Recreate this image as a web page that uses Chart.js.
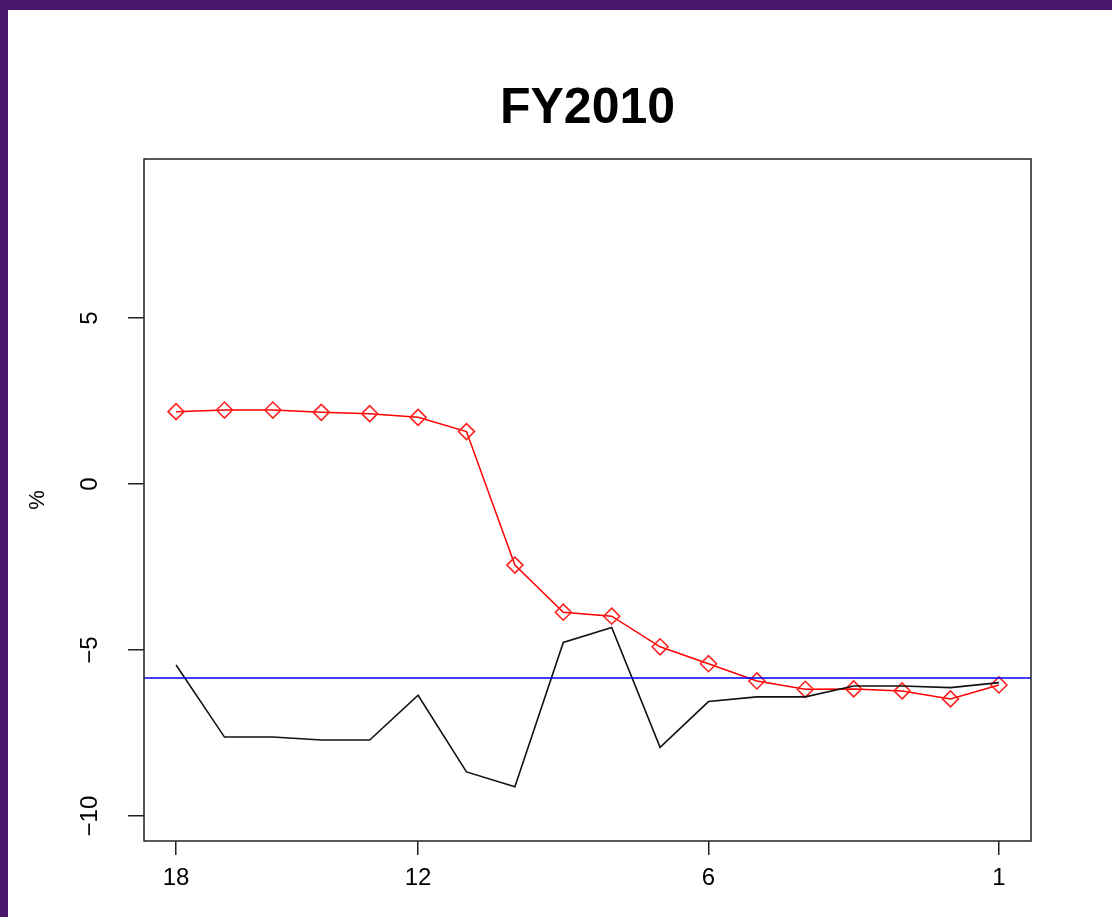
<!DOCTYPE html>
<html>
<head>
<meta charset="utf-8">
<title>FY2010</title>
<script src="https://cdn.jsdelivr.net/npm/chart.js@4.4.1/dist/chart.umd.min.js"></script>
<style>
	html, body { margin: 0; padding: 0; }
	body { width: 1112px; height: 917px; background: #48176a; position: relative; overflow: hidden; }
	#wrap { position: absolute; left: 8px; top: 10px; width: 1104px; height: 907px; background: #fff; }
</style>
</head>
<body>
<div id="wrap"><canvas id="line-chart" width="1104" height="907"></canvas></div>
<script>
// months before, 18 points left to right
var xLabels = ["18", "", "", "", "", "12", "", "", "", "", "", "6", "", "", "", "", "", "1"];
var xTicks = [0, 5, 11, 17];
var yTicks = [-10, -5, 0, 5];
var titleText = "FY2010";

// red series (with diamonds)
var forecast = [2.18, 2.23, 2.23, 2.16, 2.12, 2.01, 1.58, -2.44, -3.86, -3.98,
	-4.90, -5.41, -5.93, -6.18, -6.17, -6.23, -6.47, -6.05];
// black series
var actual = [-5.45, -7.62, -7.62, -7.71, -7.71, -6.36, -8.67, -9.12, -4.77, -4.32,
	-7.93, -6.55, -6.41, -6.41, -6.08, -6.08, -6.13, -5.98];
// blue reference level
var level = -5.84;

var xMin = -0.663, xMax = 17.663;
var yMin = -10.75, yMax = 9.79;

function toPoints(arr) {
	var pts = [];
	for (var i = 0; i < arr.length; i++) {
		pts.push({ x: i, y: arr[i] });
	}
	return pts;
}

Chart.defaults.font.family = "'Liberation Sans', Arial, Helvetica, sans-serif";
Chart.defaults.color = "#000";

//frame box, title over the plot and rotated y labels like R
var framePlugin = {
	id : "frame",
	afterDraw : function(chart) {
		var ctx = chart.ctx;
		var a = chart.chartArea;
		ctx.save();
		ctx.strokeStyle = "#222";
		ctx.lineWidth = 1.5;
		ctx.strokeRect(a.left, a.top, a.right - a.left, a.bottom - a.top);

		ctx.fillStyle = "#000";
		ctx.font = "bold 50px 'Liberation Sans', Arial, sans-serif";
		ctx.textAlign = "center";
		ctx.textBaseline = "alphabetic";
		ctx.fillText(titleText, (a.left + a.right) / 2, 113);

		var ys = chart.scales.y;
		ctx.font = "24px 'Liberation Sans', Arial, sans-serif";
		ctx.textBaseline = "middle";
		for (var i = 0; i < yTicks.length; i++) {
			var py = ys.getPixelForValue(yTicks[i]);
			ctx.save();
			ctx.translate(82, py);
			ctx.rotate(-Math.PI / 2);
			ctx.fillText(String(yTicks[i]).replace("-", "\u2212"), 0, 0);
			ctx.restore();
		}
		ctx.restore();
	}
};

var ctx = document.getElementById("line-chart");

var data = {
	datasets : [
		{
			label : "level",
			data : [{ x: xMin, y: level }, { x: xMax, y: level }],
			borderColor : "#0000ff",
			borderWidth : 1.5,
			pointRadius : 0,
			fill : false
		},
		{
			label : "actual",
			data : toPoints(actual),
			borderColor : "#111",
			borderWidth : 1.6,
			pointRadius : 0,
			fill : false,
			tension : 0
		},
		{
			label : "forecast",
			data : toPoints(forecast),
			borderColor : "#ff0000",
			backgroundColor : "rgba(0,0,0,0)",
			borderWidth : 1.5,
			pointStyle : "rectRot",
			pointRadius : 8,
			pointBorderWidth : 1.6,
			pointBorderColor : "#ff2020",
			fill : false,
			tension : 0
		}
	]
};

var options = {
	responsive : false,
	animation : false,
	layout : { padding : { top : 149, left : 0, right : 81, bottom : 0 } },
	plugins : {
		legend : { display : false },
		tooltip : { enabled : false },
		title : { display : false }
	},
	scales : {
		x : {
			type : "linear",
			min : xMin,
			max : xMax,
			afterBuildTicks : function(scale) {
				scale.ticks = xTicks.map(function(v) { return { value : v }; });
			},
			afterFit : function(scale) { scale.height = 76; },
			ticks : {
				autoSkip : false,
				maxRotation : 0,
				padding : 9,
				font : { size : 24 },
				callback : function(v) { return xLabels[v]; }
			},
			grid : {
				drawOnChartArea : false,
				drawTicks : true,
				tickLength : 14,
				color : "#222",
				lineWidth : 1.5
			},
			border : { display : false }
		},
		y : {
			type : "linear",
			min : yMin,
			max : yMax,
			afterBuildTicks : function(scale) {
				scale.ticks = yTicks.map(function(v) { return { value : v }; });
			},
			afterFit : function(scale) { scale.width = 136; },
			ticks : { display : false },
			grid : {
				drawOnChartArea : false,
				drawTicks : true,
				tickLength : 16,
				color : "#222",
				lineWidth : 1.5
			},
			border : { display : false },
			title : {
				display : true,
				text : "%",
				font : { size : 22 },
				color : "#000",
				padding : { top : 17, bottom : 0 }
			}
		}
	}
};

var chart = new Chart(ctx, {
	type : "line",
	data : data,
	options : options,
	plugins : [framePlugin]
});
</script>
</body>
</html>
